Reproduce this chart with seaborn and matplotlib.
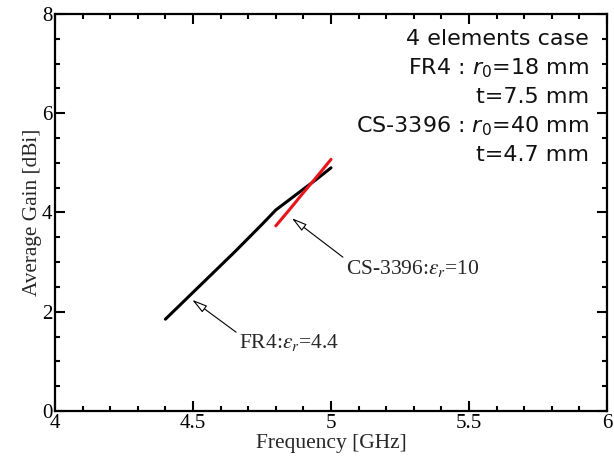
import matplotlib
matplotlib.use("Agg")
import matplotlib.pyplot as plt
import seaborn as sns
import pandas as pd
from matplotlib.ticker import MultipleLocator

# Data
fr4_freq = [4.40, 4.45, 4.50, 4.55, 4.60, 4.65, 4.70, 4.75, 4.80, 4.85, 4.90, 4.95, 5.00]
fr4_gain = [1.85, 2.12, 2.39, 2.66, 2.93, 3.20, 3.48, 3.76, 4.05, 4.26, 4.47, 4.68, 4.90]
cs_freq = [4.80, 4.85, 4.90, 4.95, 5.00]
cs_gain = [3.73, 4.06, 4.40, 4.73, 5.07]

info_lines = ["4 elements case",
              "FR4 : $r_0$=18 mm",
              "t=7.5 mm",
              "CS-3396 : $r_0$=40 mm",
              "t=4.7 mm"]

sns.set_style("ticks")
plt.rcParams['font.family'] = ['Liberation Serif', 'DejaVu Serif']
plt.rcParams['mathtext.fontset'] = 'stix'

df_fr4 = pd.DataFrame({'freq': fr4_freq, 'gain': fr4_gain})
df_cs = pd.DataFrame({'freq': cs_freq, 'gain': cs_gain})

fig = plt.figure(figsize=(6.14, 4.59), dpi=100)
ax = fig.add_axes([0.0896, 0.1046, 0.899, 0.865])

sns.lineplot(data=df_fr4, x='freq', y='gain', color='black', lw=2.2, ax=ax)
sns.lineplot(data=df_cs, x='freq', y='gain', color='#e8141c', lw=2.2, ax=ax)

ax.set_xlim(4, 6)
ax.set_ylim(0, 8)
ax.xaxis.set_major_locator(MultipleLocator(0.5))
ax.xaxis.set_minor_locator(MultipleLocator(0.1))
ax.yaxis.set_major_locator(MultipleLocator(2))
ax.yaxis.set_minor_locator(MultipleLocator(0.5))
ax.set_xticks([4, 4.5, 5, 5.5, 6])
ax.set_xticklabels(['4', '4.5', '5', '5.5', '6'])
ax.tick_params(which='both', direction='in', top=True, right=True, width=1.5,
               labelsize=15, colors='black')
ax.tick_params(which='major', length=7.5, pad=2)
ax.tick_params(which='minor', length=3.8)
for s in ax.spines.values():
    s.set_linewidth(1.6)
    s.set_color('black')

ax.set_xlabel('Frequency [GHz]', fontsize=15.5, labelpad=1)
ax.set_ylabel('Average Gain [dBi]', fontsize=15.3, labelpad=0)

arrow = dict(arrowstyle='-|>,head_length=0.6,head_width=0.16', fc='white',
             ec='black', lw=0.8, shrinkA=0, shrinkB=0, relpos=(0, 0.9))
ax.annotate(r'CS-3396:$\varepsilon_r$=10', xy=(4.858, 3.885), xytext=(5.055, 2.88),
            fontsize=15.5, va='center', ha='left', arrowprops=arrow)
ax.annotate(r'FR4:$\varepsilon_r$=4.4', xy=(4.497, 2.24), xytext=(4.668, 1.37),
            fontsize=15.5, va='center', ha='left', arrowprops=arrow)

y0 = 7.5
for i, line in enumerate(info_lines):
    ax.text(5.935, y0 - i * 0.585, line, ha='right', va='center', fontsize=16,
            family=['DejaVu Sans'], math_fontfamily='dejavusans', color='#111111')

fig.savefig('out.png', dpi=100)
